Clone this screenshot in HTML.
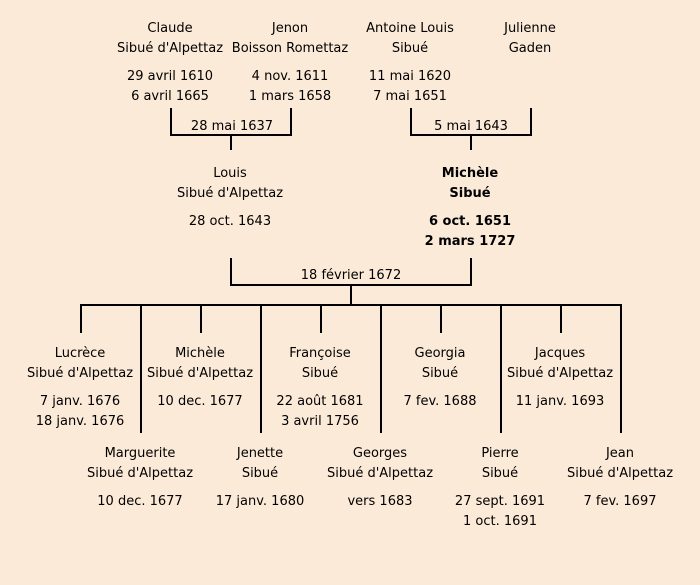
<!DOCTYPE html>
<html><head><meta charset="utf-8"><style>
html,body{margin:0;padding:0;background:#fcead8;}
svg{display:block;}
text{font-family:"DejaVu Sans","Liberation Sans",sans-serif;font-size:13px;fill:#000;text-anchor:middle;}
.b{font-weight:bold;}
</style></head><body>
<svg width="700" height="585" viewBox="0 0 700 585">
<rect width="700" height="585" fill="#fcead8"/>
<g stroke="#000" stroke-width="2" fill="none">
<polyline points="171,108 171,135 291,135 291,108"/>
<line x1="231" y1="135" x2="231" y2="150"/>
<polyline points="411,108 411,135 531,135 531,108"/>
<line x1="471" y1="135" x2="471" y2="150"/>
<polyline points="231,258 231,285 471,285 471,258"/>
<line x1="351" y1="285" x2="351" y2="305"/>
<line x1="80" y1="305" x2="622" y2="305"/>
<line x1="81" y1="305" x2="81" y2="333"/>
<line x1="201" y1="305" x2="201" y2="333"/>
<line x1="321" y1="305" x2="321" y2="333"/>
<line x1="441" y1="305" x2="441" y2="333"/>
<line x1="561" y1="305" x2="561" y2="333"/>
<line x1="141" y1="305" x2="141" y2="433"/>
<line x1="261" y1="305" x2="261" y2="433"/>
<line x1="381" y1="305" x2="381" y2="433"/>
<line x1="501" y1="305" x2="501" y2="433"/>
<line x1="621" y1="305" x2="621" y2="433"/>
</g>
<g>
<text x="170" y="32">Claude</text><text x="170" y="52">Sibué d'Alpettaz</text>
<text x="170" y="80">29 avril 1610</text><text x="170" y="100">6 avril 1665</text>
<text x="290" y="32">Jenon</text><text x="290" y="52">Boisson Romettaz</text>
<text x="290" y="80">4 nov. 1611</text><text x="290" y="100">1 mars 1658</text>
<text x="410" y="32">Antoine Louis</text><text x="410" y="52">Sibué</text>
<text x="410" y="80">11 mai 1620</text><text x="410" y="100">7 mai 1651</text>
<text x="530" y="32">Julienne</text><text x="530" y="52">Gaden</text>
<text x="232" y="130">28 mai 1637</text>
<text x="471" y="130">5 mai 1643</text>
<text x="230" y="177">Louis</text><text x="230" y="197">Sibué d'Alpettaz</text>
<text x="230" y="225">28 oct. 1643</text>
<text x="470" y="177" class="b">Michèle</text><text x="470" y="197" class="b">Sibué</text>
<text x="470" y="225" class="b">6 oct. 1651</text><text x="470" y="245" class="b">2 mars 1727</text>
<text x="351" y="279">18 février 1672</text>
<text x="80" y="357">Lucrèce</text><text x="80" y="377">Sibué d'Alpettaz</text>
<text x="80" y="405">7 janv. 1676</text><text x="80" y="425">18 janv. 1676</text>
<text x="200" y="357">Michèle</text><text x="200" y="377">Sibué d'Alpettaz</text>
<text x="200" y="405">10 dec. 1677</text>
<text x="320" y="357">Françoise</text><text x="320" y="377">Sibué</text>
<text x="320" y="405">22 août 1681</text><text x="320" y="425">3 avril 1756</text>
<text x="440" y="357">Georgia</text><text x="440" y="377">Sibué</text>
<text x="440" y="405">7 fev. 1688</text>
<text x="560" y="357">Jacques</text><text x="560" y="377">Sibué d'Alpettaz</text>
<text x="560" y="405">11 janv. 1693</text>
<text x="140" y="457">Marguerite</text><text x="140" y="477">Sibué d'Alpettaz</text>
<text x="140" y="505">10 dec. 1677</text>
<text x="260" y="457">Jenette</text><text x="260" y="477">Sibué</text>
<text x="260" y="505">17 janv. 1680</text>
<text x="380" y="457">Georges</text><text x="380" y="477">Sibué d'Alpettaz</text>
<text x="380" y="505">vers 1683</text>
<text x="500" y="457">Pierre</text><text x="500" y="477">Sibué</text>
<text x="500" y="505">27 sept. 1691</text><text x="500" y="525">1 oct. 1691</text>
<text x="620" y="457">Jean</text><text x="620" y="477">Sibué d'Alpettaz</text>
<text x="620" y="505">7 fev. 1697</text>
</g>
</svg>
</body></html>
